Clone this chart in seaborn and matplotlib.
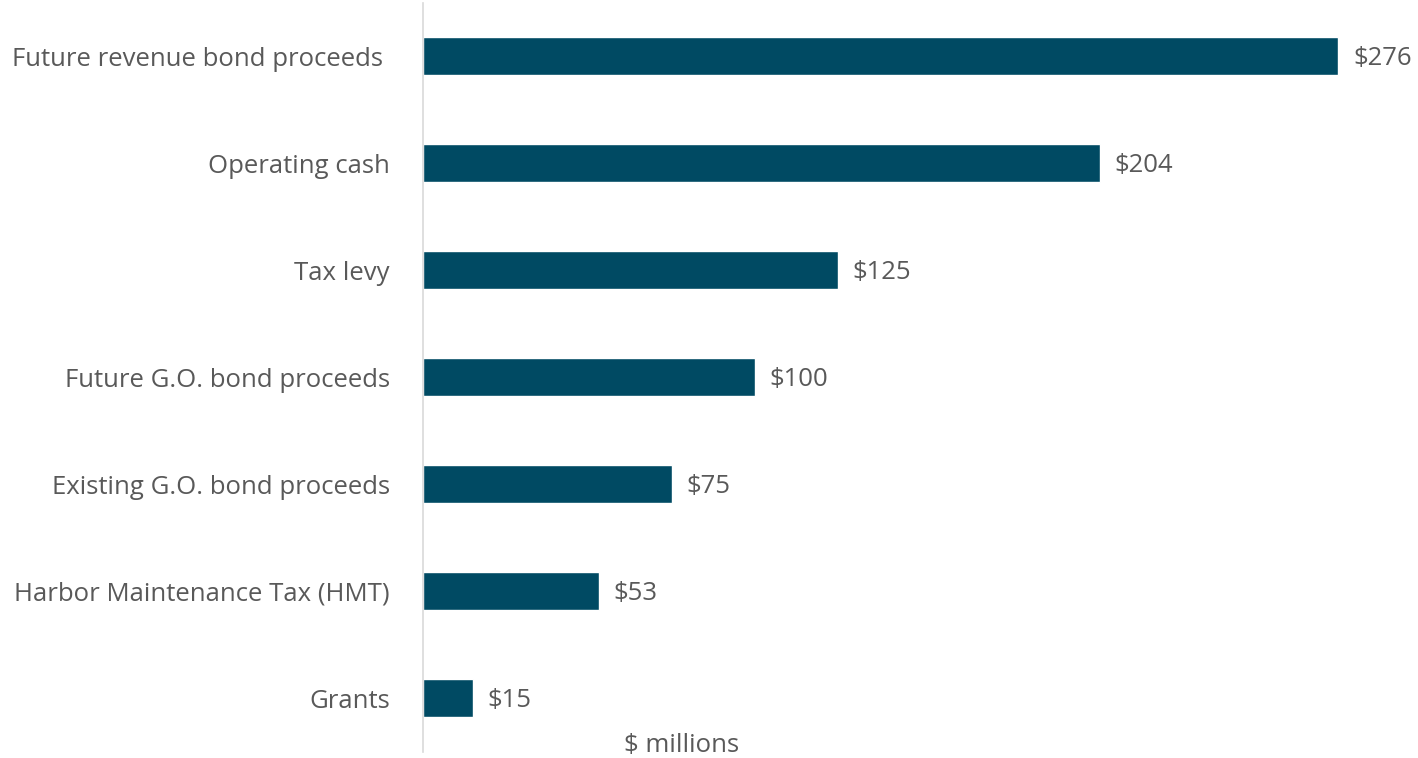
import matplotlib
matplotlib.use("Agg")
import matplotlib.pyplot as plt
import seaborn as sns
import pandas as pd

categories = [
    "Future revenue bond proceeds ",
    "Operating cash",
    "Tax levy",
    "Future G.O. bond proceeds",
    "Existing G.O. bond proceeds",
    "Harbor Maintenance Tax (HMT)",
    "Grants",
]
values = [276, 204, 125, 100, 75, 53, 15]
value_labels = ["$276", "$204", "$125", "$100", "$75", "$53", "$15"]

BAR_COLOR = "#004a63"
TEXT_COLOR = "#595959"
FS = 18.5


def main():
    sns.set_style("white")
    plt.rcParams["font.family"] = ["Open Sans", "DejaVu Sans"]

    df = pd.DataFrame({"Source": categories, "Value": values})

    fig = plt.figure(figsize=(14.18, 7.58), dpi=100)
    ax = fig.add_axes([423 / 1418, 6.5 / 758, 995 / 1418, 749 / 758])

    sns.barplot(data=df, y="Source", x="Value", color=BAR_COLOR,
                width=0.355, saturation=1, ax=ax)

    ax.set_xlim(0, 300)
    ax.set_ylim(6.5, -0.5)
    ax.set_xlabel("")
    ax.set_ylabel("")
    ax.set_xticks([])

    for s in ["top", "right", "bottom"]:
        ax.spines[s].set_visible(False)
    ax.spines["left"].set_color("#d9d9d9")
    ax.spines["left"].set_linewidth(1.2)

    ax.tick_params(axis="y", length=0, pad=24, labelsize=FS, labelcolor=TEXT_COLOR)
    for t in ax.get_yticklabels():
        t.set_fontweight("medium")

    for i, (v, lab) in enumerate(zip(values, value_labels)):
        ax.text(v + 4.5, i + 0.02, lab, va="center", ha="left",
                fontsize=FS, color=TEXT_COLOR, fontweight="medium")

    fig.text(682 / 1418, 1 - 745 / 758, "$ millions", ha="center", va="center",
             fontsize=FS, color=TEXT_COLOR, fontweight="medium")

    fig.savefig("out.png", dpi=100)


if __name__ == "__main__":
    main()
